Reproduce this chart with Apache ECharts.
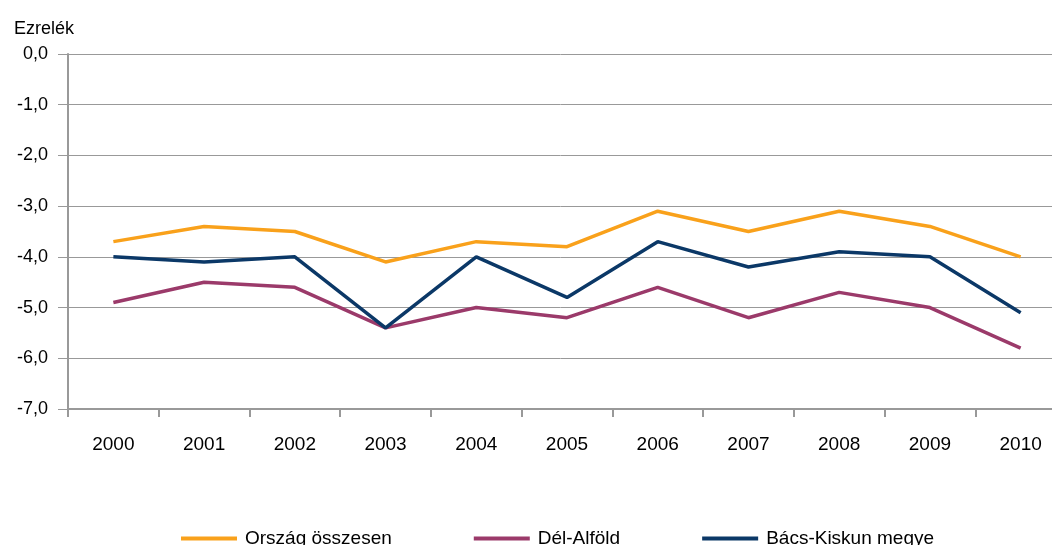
<!DOCTYPE html>
<html>
<head>
<meta charset="utf-8">
<script src="https://cdn.jsdelivr.net/npm/echarts@6/dist/echarts.min.js"></script>
<style>
html,body{margin:0;padding:0;background:#fff;}
#c{width:1052px;height:545px;}
</style>
</head>
<body>
<div id="c"></div>
<script>
const years = ['2000','2001','2002','2003','2004','2005','2006','2007','2008','2009','2010'];
const orszag = [-3.7,-3.4,-3.5,-4.1,-3.7,-3.8,-3.1,-3.5,-3.1,-3.4,-4.0];
const delAlfold = [-4.9,-4.5,-4.6,-5.4,-5.0,-5.2,-4.6,-5.2,-4.7,-5.0,-5.8];
const bacsKiskun = [-4.0,-4.1,-4.0,-5.4,-4.0,-4.8,-3.7,-4.2,-3.9,-4.0,-5.1];
const seriesNames = ['Ország összesen','Dél-Alföld','Bács-Kiskun megye'];
const yName = 'Ezrelék';

const FONT = '"Liberation Sans", Arial, sans-serif';
const chart = echarts.init(document.getElementById('c'));
const mk = (name, data, color) => ({
  name, type:'line', data, symbol:'none', smooth:false,
  lineStyle:{color, width:3.5}, itemStyle:{color}
});
chart.setOption({
  animation:false,
  textStyle:{fontFamily:FONT},
  title:{text:yName, left:9, top:15, textStyle:{fontFamily:FONT, fontSize:18, fontWeight:'normal', color:'#000'}},
  grid:{left:68, top:54, width:998, height:355, containLabel:false, outerBoundsMode:'none'},
  legend:{
    left:176, top:524, itemWidth:56, itemHeight:14, itemGap:82,
    data: seriesNames.map((n,i)=>({name:n, icon:'path://M0,0 L55,0 L55,4 L0,4 Z'})),
    textStyle:{fontFamily:FONT, fontSize:19, color:'#000', padding:[0,0,0,3]}
  },
  xAxis:{
    type:'category', data:years, boundaryGap:true,
    axisLine:{onZero:false, lineStyle:{color:'#999', width:2}},
    axisTick:{show:true, length:8, lineStyle:{color:'#999', width:2}},
    axisLabel:{color:'#000', fontSize:19, fontFamily:FONT, margin:26}
  },
  yAxis:{
    type:'value', min:-7, max:0, interval:1,
    axisLine:{show:true, lineStyle:{color:'#999', width:2}},
    axisTick:{show:true, length:10, lineStyle:{color:'#999', width:1}},
    splitLine:{show:true, lineStyle:{color:'#999', width:1}},
    axisLabel:{color:'#000', fontSize:18, fontFamily:FONT, margin:20,
      formatter:v=>v.toFixed(1).replace('.',',')}
  },
  series:[
    mk(seriesNames[0], orszag, '#F9A11B'),
    mk(seriesNames[1], delAlfold, '#9B3A6A'),
    mk(seriesNames[2], bacsKiskun, '#0B3867')
  ]
});
</script>
</body>
</html>
